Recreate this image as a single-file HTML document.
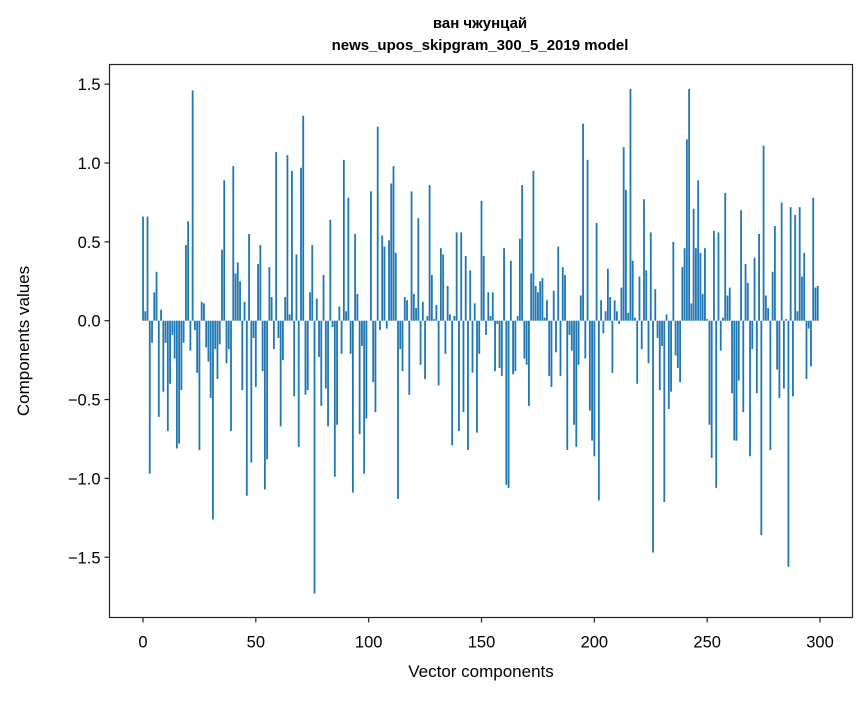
<!DOCTYPE html>
<html><head><meta charset="utf-8"><style>
body{margin:0;background:#fff;}
svg text{font-family:"Liberation Sans","DejaVu Sans",sans-serif;fill:#000;}
</style></head><body>
<svg id="chart" width="867" height="696" viewBox="0 0 867 696">
<rect width="867" height="696" fill="#fff"/>
<text x="480" y="28" text-anchor="middle" font-size="15" font-weight="bold">ван чжунцай</text>
<text x="480" y="50" text-anchor="middle" font-size="15" font-weight="bold">news_upos_skipgram_300_5_2019 model</text>
<g id="bars"></g>
<g id="axes"></g>
<text x="481" y="677" text-anchor="middle" font-size="17">Vector components</text>
<text x="29" y="341" text-anchor="middle" font-size="17" transform="rotate(-90 29 341)">Components values</text>
</svg>
<script>
const values = [
0.66,0.06,0.66,-0.97,-0.14,0.18,0.31,-0.61,0.07,-0.45,
-0.14,-0.70,-0.40,-0.09,-0.24,-0.81,-0.78,-0.44,-0.14,0.48,
0.63,-0.19,1.46,-0.06,-0.33,-0.82,0.12,0.11,-0.17,-0.26,
-0.49,-1.26,-0.18,-0.37,-0.15,0.45,0.89,-0.27,-0.18,-0.70,
0.98,0.30,0.37,0.25,-0.44,0.12,-1.11,0.55,-0.90,-0.11,
-0.42,0.36,0.48,-0.32,-1.07,-0.88,0.34,0.15,-0.18,1.07,
-0.11,-0.67,-0.25,0.15,1.05,0.04,0.95,-0.48,0.42,-0.80,
0.97,1.30,-0.47,-0.44,0.18,0.48,-1.73,0.14,-0.23,-0.54,
0.29,-0.43,-0.67,0.64,-0.04,-0.99,-0.66,0.09,-0.21,1.02,
0.06,0.78,-0.21,-1.09,0.55,0.17,-0.72,-0.16,-0.97,-0.62,
0.00,0.82,-0.39,-0.58,1.23,-0.06,0.54,0.47,-0.05,0.51,
0.87,0.98,0.43,-1.13,-0.18,-0.32,0.15,0.13,-0.47,0.82,
0.17,0.08,0.65,-0.28,0.12,-0.37,0.03,0.86,0.29,0.01,
0.10,-0.41,0.46,0.42,-0.21,0.22,0.04,-0.79,0.03,0.56,
-0.70,0.56,-0.58,0.41,-0.82,0.32,-0.33,0.11,-0.71,-0.21,
0.76,0.41,-0.09,0.18,0.03,0.18,-0.32,-0.02,-0.30,-0.35,
0.46,-1.04,-1.06,0.38,-0.34,-0.32,0.03,0.52,0.86,-0.24,
-0.28,-0.54,0.30,0.95,0.22,0.18,0.25,0.27,0.02,0.13,
-0.35,-0.42,0.19,-0.20,0.47,-0.35,0.34,0.29,-0.82,-0.09,
-0.19,-0.66,-0.80,-0.28,0.16,1.25,-0.24,1.02,-0.57,-0.76,
-0.86,0.62,-1.14,0.13,-0.08,0.06,0.33,0.15,-0.33,0.13,
0.06,-0.02,0.21,1.10,0.83,0.05,1.47,0.38,0.02,-0.40,
0.28,-0.18,0.77,0.32,-0.27,0.56,-1.47,0.20,-0.11,-0.44,
-0.16,-1.15,0.04,-0.56,-0.45,0.50,-0.22,-0.30,-0.39,0.34,
0.46,1.15,1.47,0.11,0.71,0.46,0.89,0.43,0.17,0.46,
0.01,-0.66,-0.87,0.57,-1.06,0.56,-0.19,0.02,0.81,0.16,
0.21,-0.46,-0.76,-0.76,-0.38,0.70,-0.58,0.36,0.24,-0.86,
-0.18,0.40,-0.46,0.55,-1.36,1.11,0.16,0.08,-0.82,0.31,
0.60,-0.31,-0.49,0.75,-0.43,0.01,-1.56,0.72,-0.48,0.67,
0.06,0.72,0.28,0.43,-0.37,-0.05,-0.29,0.78,0.21,0.22
];
const xTicks = [0,50,100,150,200,250,300];
const yTicks = [1.5,1.0,0.5,0.0,-0.5,-1.0,-1.5];
const yTickLabels = ["1.5","1.0","0.5","0.0","\u22120.5","\u22121.0","\u22121.5"];

const NS = "http://www.w3.org/2000/svg";
const L = 109.5, R = 852.5, T = 64.5, B = 617.5;
function xs(v){ return 143 + v * 2.2567; }
function ys(v){ return 320.7 - v * 157.7; }

const bars = document.getElementById('bars');
values.forEach((v, i) => {
  const r = document.createElementNS(NS, 'rect');
  const x0 = xs(i - 0.4), x1 = xs(i + 0.4);
  const y0 = ys(Math.max(v, 0)), y1 = ys(Math.min(v, 0));
  r.setAttribute('x', x0);
  r.setAttribute('y', y0);
  r.setAttribute('width', x1 - x0);
  r.setAttribute('height', Math.max(y1 - y0, 0));
  r.setAttribute('fill', '#1f77b4');
  
  
  bars.appendChild(r);
});

const axes = document.getElementById('axes');
function mk(tag, attrs){ const e = document.createElementNS(NS, tag); for (const k in attrs) e.setAttribute(k, attrs[k]); axes.appendChild(e); return e; }
const frame = mk('rect', {x:L, y:T, width:R-L, height:B-T, fill:'none', stroke:'#222', 'stroke-width':1.2});


xTicks.forEach(t => {
  const x = xs(t);
  const ln = mk('line', {x1:x, x2:x, y1:B, y2:B+5, stroke:'#222', 'stroke-width':1.2});
  
  
  const tx = mk('text', {x:x, y:B+30, 'text-anchor':'middle', 'font-size':16.5});
  tx.textContent = String(t);
  
  
});
yTicks.forEach((t, k) => {
  const y = ys(t);
  const ln = mk('line', {x1:L-5, x2:L, y1:y, y2:y, stroke:'#222', 'stroke-width':1.2});
  
  
  const tx = mk('text', {x:L-9, y:y+6, 'text-anchor':'end', 'font-size':16.5});
  tx.textContent = yTickLabels[k];
  
  
});
</script>
</body></html>
